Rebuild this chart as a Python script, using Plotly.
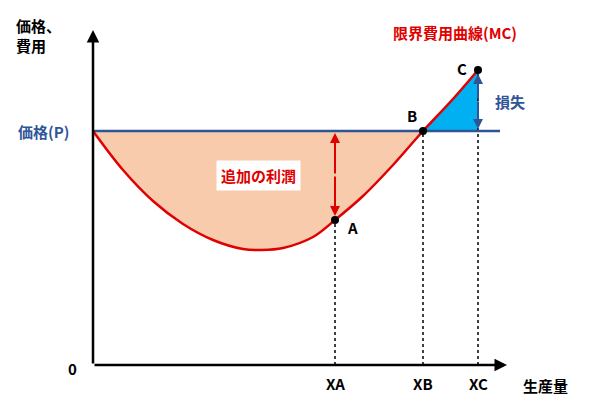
import plotly.graph_objects as go

# data (origin at axes intersection)
price = 234
mc_x = [0, 30, 60, 90, 120, 150, 169, 190, 220, 242, 270, 300, 330, 360, 385]
mc_y = [234, 195, 164, 141, 125, 116, 115, 117, 128, 145, 169, 200, 234, 266, 295]
pts_name = ["A", "B", "C"]
pts_x = [242, 330, 385]
pts_y = [145, 234, 295]
tick_labels = ["XA", "XB", "XC"]

F = "Noto Sans CJK JP"
RED = "#E00000"; BLUE = "#2F5597"
fig = go.Figure()
n_b = mc_x.index(330)
fig.add_trace(go.Scatter(x=mc_x[:n_b+1], y=[price]*(n_b+1), mode="lines", line=dict(width=0), hoverinfo="skip"))
fig.add_trace(go.Scatter(x=mc_x[:n_b+1], y=mc_y[:n_b+1], mode="lines", line=dict(width=0, shape="spline"), fill="tonexty", fillcolor="#F8CBAD", hoverinfo="skip"))
fig.add_trace(go.Scatter(x=[pts_x[1], pts_x[2], pts_x[2], pts_x[1]], y=[price, pts_y[2], price, price], mode="lines",
                         line=dict(width=0), fill="toself", fillcolor="#00B0F0"))
for x, y in zip(pts_x, pts_y):
    fig.add_trace(go.Scatter(x=[x, x], y=[0, y], mode="lines", line=dict(color="black", width=1.5, dash="dot")))
fig.add_trace(go.Scatter(x=[0, 407], y=[price, price], mode="lines", line=dict(color=BLUE, width=2.5)))
fig.add_trace(go.Scatter(x=mc_x, y=mc_y, mode="lines", line=dict(color=RED, width=2.5, shape="spline")))
fig.add_trace(go.Scatter(x=pts_x, y=pts_y, mode="markers", marker=dict(color="black", size=8)))

def arrow(x0, y0, x1, y1, color, w=2.5, head=2):
    fig.add_annotation(x=x1, y=y1, ax=x0, ay=y0, xref="x", yref="y", axref="x", ayref="y", text="",
                       showarrow=True, arrowhead=head, arrowsize=1, arrowwidth=w, arrowcolor=color)
arrow(0, 0, 0, 335, "black")
arrow(0, 0, 414, 0, "black")
arrow(242, 190, 242, price - 2, RED, 2, 2)
arrow(242, 190, 242, pts_y[0] + 4, RED, 2, 2)
arrow(385, 265, 385, price + 2, BLUE, 2, 2)
arrow(385, 265, 385, pts_y[2] - 4, BLUE, 2, 2)

def txt(x, y, t, color="black", size=15, **kw):
    fig.add_annotation(x=x, y=y, text=t, showarrow=False, font=dict(family=F, size=size, color=color), **kw)
txt(-55, 330, "<b>価格、<br>費用</b>", align="left")
txt(-50, price, "<b>価格(P)</b>", BLUE)
txt(-21, -3, "<b>0</b>")
for x, t in zip(pts_x, tick_labels):
    txt(x, -18, "<b>%s</b>" % t)
txt(452, -20, "<b>生産量</b>")
txt(362, 333, "<b>限界費用曲線(MC)</b>", RED)
txt(417, 264, "<b>損失</b>", BLUE)
fig.add_annotation(x=165, y=190, text="<b>追加の利潤</b>", showarrow=False, bgcolor="white",
                   font=dict(family=F, size=15, color=RED), borderpad=4)
txt(259, 138, "<b>A</b>")
txt(319, 250, "<b>B</b>")
txt(369, 297, "<b>C</b>")

fig.update_layout(width=605, height=419, margin=dict(l=0, r=0, t=0, b=0), showlegend=False,
                  plot_bgcolor="white", paper_bgcolor="white",
                  xaxis=dict(range=[-85, 520], visible=False, fixedrange=True),
                  yaxis=dict(range=[-62, 357], visible=False, fixedrange=True))
fig.write_html("out.html")
